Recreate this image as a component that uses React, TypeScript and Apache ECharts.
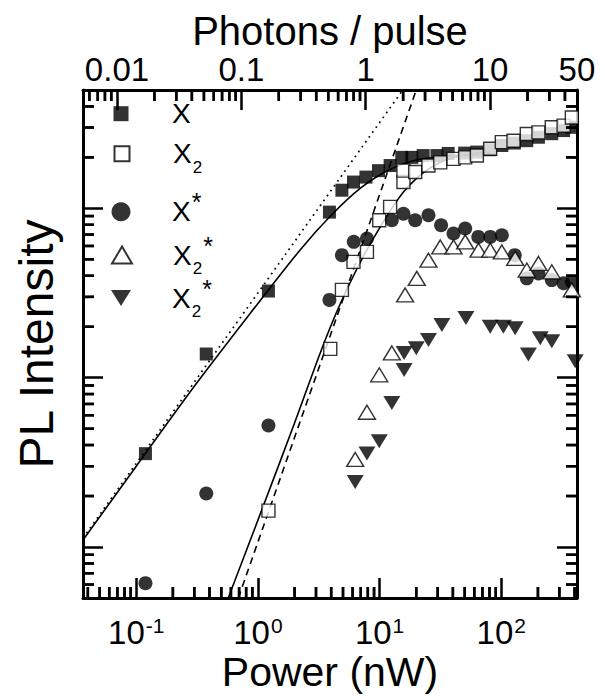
import { useEffect, useRef } from 'react';
import * as echarts from 'echarts';

const FONT = "'Liberation Sans', Arial, Helvetica, sans-serif";

// ---- data (power in nW, intensity in arbitrary units) ----
const xPower = [0.119, 0.376, 1.22, 3.87, 4.9, 6.1, 7.72, 9.79, 12.2, 15.2, 18.4, 22.8, 29.6, 36.6, 50, 63, 81, 101, 128, 162, 202, 260, 325, 380];
const xIntensity = [3.56, 13.8, 32.5, 95, 128, 143, 153, 167, 179, 200, 200, 205, 205, 211, 212, 215, 222, 235, 243, 251, 263, 276, 288, 301];

const x2Power = [1.22, 3.93, 4.9, 6.1, 7.87, 9.93, 12.2, 15.7, 15.7, 19.6, 25.2, 31.5, 40.5, 50.5, 63, 81, 101, 126, 162, 202, 260, 325, 380];
const x2Intensity = [1.64, 14.8, 33.0, 48.3, 55.3, 85, 102, 143, 167, 164, 179, 187, 196, 200, 205, 225, 246, 251, 275, 281, 301, 308, 344];

const xStarPower = [0.119, 0.376, 1.22, 3.87, 4.9, 6.13, 7.87, 12.6, 15.7, 19.6, 25.2, 32, 40.5, 50.5, 64.7, 81.1, 101, 129, 162, 202, 260, 325, 380];
const xStarIntensity = [0.612, 2.07, 5.22, 28.8, 52.9, 63.4, 66.4, 85, 93, 85, 91, 79.5, 71, 76, 67.8, 67.8, 69.4, 52.9, 38.6, 41.3, 37.7, 36.1, 36.9];

const x2StarOpenPower = [6.3, 7.87, 9.93, 12.6, 16.2, 20.2, 25.2, 31.5, 40.5, 50.5, 65, 81.1, 101, 130, 162, 202, 260, 380];
const x2StarOpenIntensity = [3.29, 6.25, 10.4, 14.0, 30.8, 38.6, 49.4, 59.2, 59.2, 63.4, 56.6, 56.6, 55.3, 50.6, 43.2, 47.3, 42.2, 33];

const x2StarFilledPower = [6.3, 7.87, 9.93, 12.6, 15.9, 15.9, 20, 25.2, 32.5, 51.2, 81.1, 104, 130, 167, 209, 260, 405];
const x2StarFilledIntensity = [2.42, 3.57, 4.22, 7.1, 11.1, 14.0, 14.9, 16.7, 20.5, 22.5, 20.0, 20.0, 19.6, 13.7, 17.1, 16.4, 12.5];

// fitted curves
const fitXPower = [0.0365, 0.1, 0.3, 0.865, 2.23, 4, 7, 12, 20, 35, 60, 85];
const fitXIntensity = [1.1, 3.0, 8.9, 24, 57, 91, 132, 169, 193, 204, 207, 210];
const fitX2Power = [0.57, 1.07, 2.0, 3.25, 4.5, 6.1, 7.87, 9.93, 12.6, 15.7, 20, 25, 33, 52, 81];
const fitX2Intensity = [0.5, 1.64, 5.4, 14, 25, 40, 57, 76, 100, 125, 150, 170, 190, 208, 215];
const linearPower = [0.0365, 15.5];
const linearIntensity = [1.13, 500];
const quadraticPower = [0.69, 20];
const quadraticIntensity = [0.5, 500];

// ---- axes ----
const X_MIN = 0.0365;
const X_MAX = 419;
const TOP_MIN = 0.00533;
const TOP_MAX = 50.02;
const Y_MIN = 0.5;
const Y_MAX = 500;

const bottomMajorTicks = [0.1, 1, 10, 100];
const bottomMinorTicks = [0.04, 0.05, 0.06, 0.07, 0.08, 0.09, 0.2, 0.3, 0.4, 0.5, 0.6, 0.7, 0.8, 0.9, 2, 3, 4, 5, 6, 7, 8, 9, 20, 30, 40, 50, 60, 70, 80, 90, 200, 300, 400];
const topLabels = [0.01, 0.1, 1, 10, 50];
const topMajorTicks = [0.01, 0.1, 1, 10];
const topMinorTicks = [0.006, 0.007, 0.008, 0.009, 0.02, 0.03, 0.04, 0.05, 0.06, 0.07, 0.08, 0.09, 0.2, 0.3, 0.4, 0.5, 0.6, 0.7, 0.8, 0.9, 2, 3, 4, 5, 6, 7, 8, 9, 20, 30, 40];
const yMajorTicks = [1, 10, 100];
const yMinorTicks = [0.6, 0.7, 0.8, 0.9, 2, 3, 4, 5, 6, 7, 8, 9, 20, 30, 40, 50, 60, 70, 80, 90, 200, 300, 400];

const zip = (a: number[], b: number[]) => a.map((v, i) => [v, b[i]]);

const BLACK = '#000';
const tickStyle = { color: BLACK, width: 2.5 };

// layout of the plotting box (px)
const GRID_LEFT = 83;
const GRID_RIGHT = 28;
const GRID_TOP = 90;
const GRID_BOTTOM = 98;
const GRID_W = 605 - GRID_LEFT - GRID_RIGHT;
const GRID_H = 696 - GRID_TOP - GRID_BOTTOM;
const MINOR_LEN = 11;
const TICK_W = 2.5;
const yTickFactor = Math.pow(10, (MINOR_LEN * Math.log10(Y_MAX / Y_MIN)) / GRID_H);
const xTickFactor = Math.pow(10, (MINOR_LEN * Math.log10(X_MAX / X_MIN)) / GRID_W);
const SLANT = 1.0004;

function majorYAxis(position: string, withName: boolean) {
  return {
    type: 'log',
    position,
    min: Y_MIN,
    max: Y_MAX,
    axisLine: { show: true, onZero: false, lineStyle: { color: BLACK, width: 3 } },
    axisTick: { show: true, inside: true, length: 20, customValues: yMajorTicks, lineStyle: tickStyle },
    axisLabel: { show: false },
    splitLine: { show: false },
    name: withName ? 'PL Intensity' : '',
    nameLocation: 'middle',
    nameGap: 23,
    nameMoveOverlap: false,
    nameTextStyle: { fontSize: 48, lineHeight: 48, fontFamily: FONT, color: BLACK },
  };
}

const legendText: Record<string, string> = {
  X: '{m|X}',
  X2: '{m|X}{sub|2}',
  XS: '{m|X}{sup|*}',
  X2SO: '{m|X}{sub|2}{sup|*}',
  X2SF: '{m|X}{sub|2}{sup|*}',
};

const LEG_LH = 44;
const tok = (fontSize: number, lineHeight: number, extra: any = {}) => ({
  fontSize,
  lineHeight,
  fontFamily: FONT,
  color: BLACK,
  ...extra,
});

const legendRich = {
  m: tok(28, LEG_LH),
  sub: tok(17, 17, { verticalAlign: 'bottom', padding: [0, 0, 0, 1] }),
  sup: tok(25, 25, { verticalAlign: 'top', padding: [0, 0, 0, 1] }),
};

const DOWN_TRIANGLE = 'path://M0,0L20,0L10,16Z';

const legendRows = [
  { name: 'X', center: 121.7, w: 15, ih: 15, open: false, icon: '' },
  { name: 'X2', center: 161.7, w: 15, ih: 15, open: true, icon: '' },
  { name: 'XS', center: 211.7, w: 19, ih: 19, open: false, icon: '' },
  { name: 'X2SO', center: 255, w: 20, ih: 17, open: true, icon: '' },
  { name: 'X2SF', center: 298, w: 20, ih: 16, open: false, icon: DOWN_TRIANGLE },
];

// minor ticks drawn as short segments through the chart's own log axes
function tickSeries(side: 'bottom' | 'top' | 'left' | 'right', values: number[]) {
  return values.map((v) => {
    let data: number[][];
    if (side === 'bottom') data = [[v, Y_MIN], [v * SLANT, Y_MIN * yTickFactor]];
    else if (side === 'top') data = [[v, Y_MAX], [v * SLANT, Y_MAX / yTickFactor]];
    else if (side === 'left') data = [[X_MIN, v], [X_MIN * xTickFactor, v * SLANT]];
    else data = [[X_MAX, v], [X_MAX / xTickFactor, v * SLANT]];
    return {
      type: 'line',
      name: 'tick-' + side + '-' + v,
      xAxisIndex: side === 'top' ? 1 : 0,
      yAxisIndex: 0,
      data,
      showSymbol: false,
      symbol: 'none',
      silent: true,
      clip: true,
      z: 8,
      emphasis: { disabled: true },
      lineStyle: { color: BLACK, width: TICK_W },
    };
  });
}

function buildOption() {
  const legends = legendRows.map((r) => ({
    show: true,
    data: [r.icon ? { name: r.name, icon: r.icon } : r.name],
    orient: 'vertical',
    left: 121 - r.w / 2,
    top: r.center - LEG_LH / 2,
    padding: 0,
    itemWidth: r.w,
    itemHeight: r.ih,
    selectedMode: false,
    itemStyle: r.open
      ? { color: '#fff', borderColor: BLACK, borderWidth: 2 }
      : { color: BLACK, borderColor: BLACK, borderWidth: 0 },
    formatter: (n: string) => legendText[n],
    textStyle: { fontFamily: FONT, color: BLACK, padding: [0, 0, 0, 46 - r.w / 2], rich: legendRich },
  }));

  const lineBase = {
    type: 'line',
    showSymbol: false,
    symbol: 'none',
    silent: true,
    clip: true,
    xAxisIndex: 0,
    yAxisIndex: 0,
    emphasis: { disabled: true },
    z: 1,
  };

  const scatterBase = {
    type: 'scatter',
    xAxisIndex: 0,
    yAxisIndex: 0,
    clip: false,
    emphasis: { disabled: true },
    z: 3,
  };

  return {
    animation: false,
    backgroundColor: '#fff',
    textStyle: { fontFamily: FONT },
    grid: { left: GRID_LEFT, right: GRID_RIGHT, top: GRID_TOP, bottom: GRID_BOTTOM, containLabel: false, outerBoundsMode: 'none' },
    legend: legends,
    xAxis: [
      {
        type: 'log',
        position: 'bottom',
        min: X_MIN,
        max: X_MAX,
        axisLine: { show: true, onZero: false, lineStyle: { color: BLACK, width: 3 } },
        axisTick: { show: true, inside: true, length: 20, customValues: bottomMajorTicks, lineStyle: tickStyle },
        axisLabel: {
          show: true,
          customValues: bottomMajorTicks,
          margin: 17,
          formatter: (v: number) => `{b|10}{s|${Math.round(Math.log10(v))}}`,
          rich: {
            b: { fontSize: 33, lineHeight: 35, fontFamily: FONT, color: BLACK },
            s: { fontSize: 21, lineHeight: 21, fontFamily: FONT, color: BLACK, verticalAlign: 'top', padding: [0, 0, 0, 1] },
          },
        },
        splitLine: { show: false },
        name: 'Power (nW)',
        nameLocation: 'middle',
        nameGap: 61,
        nameMoveOverlap: false,
        nameTextStyle: { fontSize: 41, lineHeight: 26, fontFamily: FONT, color: BLACK },
      },
      {
        type: 'log',
        position: 'top',
        min: TOP_MIN,
        max: TOP_MAX,
        axisLine: { show: true, onZero: false, lineStyle: { color: BLACK, width: 3 } },
        axisTick: { show: true, inside: true, length: 20, customValues: topMajorTicks, lineStyle: tickStyle },
        axisLabel: {
          show: true,
          customValues: topLabels,
          margin: 7,
          fontSize: 33,
          lineHeight: 28,
          fontFamily: FONT,
          color: BLACK,
          formatter: (v: number) => String(v),
        },
        splitLine: { show: false },
        name: 'Photons / pulse',
        nameLocation: 'middle',
        nameGap: 42,
        nameMoveOverlap: false,
        nameTextStyle: { fontSize: 40, lineHeight: 34, fontFamily: FONT, color: BLACK },
      },
    ],
    yAxis: [majorYAxis('left', true), majorYAxis('right', false)],
    series: [
      { ...lineBase, name: 'linear', data: zip(linearPower, linearIntensity), lineStyle: { color: BLACK, width: 1.7, type: [1.7, 4.3] } },
      { ...lineBase, name: 'quadratic', data: zip(quadraticPower, quadraticIntensity), lineStyle: { color: BLACK, width: 1.6, type: [7, 5] } },
      { ...lineBase, name: 'fit X', data: zip(fitXPower, fitXIntensity), smooth: 0.3, lineStyle: { color: BLACK, width: 1.6 } },
      { ...lineBase, name: 'fit X2', data: zip(fitX2Power, fitX2Intensity), smooth: 0.3, lineStyle: { color: BLACK, width: 1.6 } },
      { ...scatterBase, name: 'X', data: zip(xPower, xIntensity), symbol: 'rect', symbolSize: 13, itemStyle: { color: BLACK } },
      { ...scatterBase, name: 'X2', data: zip(x2Power, x2Intensity), symbol: 'rect', symbolSize: 13, itemStyle: { color: '#fff', borderColor: BLACK, borderWidth: 1.4 } },
      { ...scatterBase, name: 'XS', data: zip(xStarPower, xStarIntensity), symbol: 'circle', symbolSize: 14, itemStyle: { color: BLACK } },
      { ...scatterBase, name: 'X2SO', data: zip(x2StarOpenPower, x2StarOpenIntensity), symbol: 'triangle', symbolSize: [17, 14], itemStyle: { color: '#fff', borderColor: BLACK, borderWidth: 1.4 } },
      { ...scatterBase, name: 'X2SF', data: zip(x2StarFilledPower, x2StarFilledIntensity), symbol: 'triangle', symbolRotate: 180, symbolSize: [17, 14], itemStyle: { color: BLACK } },
      ...tickSeries('bottom', bottomMinorTicks),
      ...tickSeries('top', topMinorTicks),
      ...tickSeries('left', yMinorTicks),
      ...tickSeries('right', yMinorTicks),
    ],
  };
}

// the same minor ticks as small filled bars, positioned with the chart's own axis conversion
function tickRects(chart: any): any[] {
  const els: any[] = [];
  const ok = (n: any) => typeof n === 'number' && isFinite(n);
  const bar = (x: number, y: number, w: number, h: number) => {
    if (ok(x) && ok(y)) els.push({ type: 'rect', z: 9, shape: { x, y, width: w, height: h }, style: { fill: BLACK } });
  };
  try {
    const xPx = (v: number, idx: number) => Number(chart.convertToPixel({ xAxisIndex: idx }, v));
    const yPx = (v: number) => Number(chart.convertToPixel({ yAxisIndex: 0 }, v));
    const left = xPx(X_MIN, 0);
    const right = xPx(X_MAX, 0);
    const top = yPx(Y_MAX);
    const bottom = yPx(Y_MIN);
    bottomMinorTicks.forEach((v) => bar(xPx(v, 0) - TICK_W / 2, bottom - MINOR_LEN, TICK_W, MINOR_LEN));
    topMinorTicks.forEach((v) => bar(xPx(v, 1) - TICK_W / 2, top, TICK_W, MINOR_LEN));
    yMinorTicks.forEach((v) => {
      const y = yPx(v);
      bar(left, y - TICK_W / 2, MINOR_LEN, TICK_W);
      bar(right - MINOR_LEN, y - TICK_W / 2, MINOR_LEN, TICK_W);
    });
  } catch (e) {
    return els;
  }
  return els;
}

export default function App() {
  const ref = useRef<HTMLDivElement>(null);
  useEffect(() => {
    if (!ref.current) return;
    const chart = echarts.init(ref.current, null, { renderer: 'svg' });
    chart.setOption(buildOption() as any);
    try {
      chart.setOption({ graphic: { elements: tickRects(chart) } } as any);
    } catch (e) {
      // keep the chart even if the extra tick layer fails
    }
    return () => chart.dispose();
  }, []);
  return (
    <div
      ref={ref}
      style={{ position: 'absolute', left: 0, top: 0, width: 605, height: 696, background: '#fff' }}
    />
  );
}
